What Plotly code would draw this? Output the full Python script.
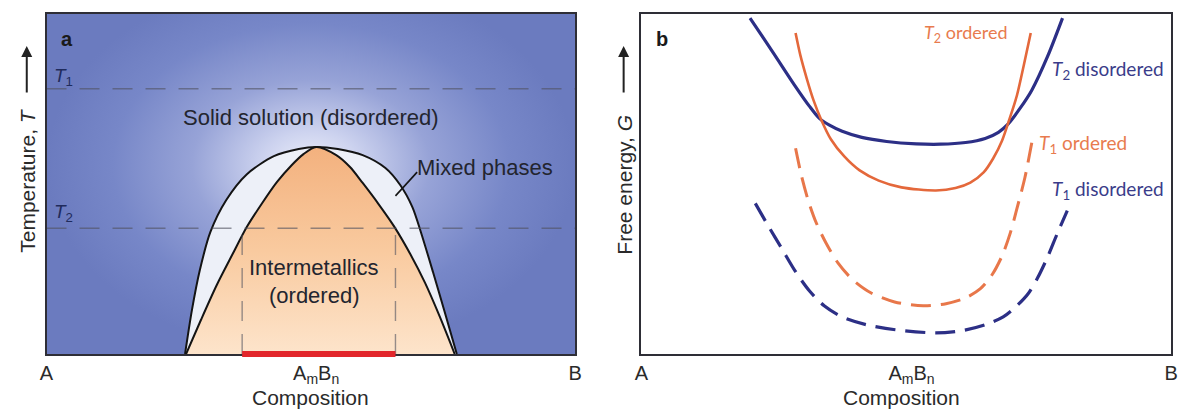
import plotly.graph_objects as go

W, H = 1187, 412

# ---------------- Panel a: phase diagram ----------------
# outer two-phase (mixed) boundary, composition vs temperature
solvus_x = [0.262, 0.275, 0.290, 0.310, 0.340, 0.379, 0.430, 0.477, 0.510, 0.551,
            0.598, 0.641, 0.669, 0.692, 0.708, 0.731, 0.753, 0.776]
solvus_t = [0.000, 0.129, 0.247, 0.359, 0.453, 0.529, 0.582, 0.603, 0.609, 0.603,
            0.585, 0.547, 0.497, 0.432, 0.359, 0.241, 0.124, 0.000]

# ordered intermetallic boundary
order_x = [0.264, 0.292, 0.322, 0.351, 0.379, 0.408, 0.436, 0.464, 0.486, 0.510,
           0.548, 0.574, 0.598, 0.628, 0.658, 0.688, 0.716, 0.744, 0.772]
order_t = [0.000, 0.100, 0.203, 0.291, 0.374, 0.444, 0.506, 0.556, 0.588, 0.609,
           0.585, 0.550, 0.503, 0.441, 0.374, 0.294, 0.209, 0.109, 0.000]

T1 = 0.78
T2 = 0.37
compound_range = [0.37, 0.66]

comp_range = [0.0, 1.0]
temp_range = [0.0, 1.0]
comp_ticks = [0.0, 0.51, 1.0]
comp_labels = ["A", "A<sub>m</sub>B<sub>n</sub>", "B"]

# ---------------- Panel b: free-energy curves ----------------
t2_dis_x = [0.205, 0.248, 0.289, 0.317, 0.336, 0.355, 0.379, 0.416, 0.463, 0.519,
            0.565, 0.612, 0.649, 0.674, 0.692, 0.715, 0.737, 0.767, 0.795]
t2_dis_g = [0.988, 0.888, 0.791, 0.729, 0.693, 0.673, 0.655, 0.637, 0.625, 0.618,
            0.617, 0.622, 0.634, 0.652, 0.676, 0.723, 0.776, 0.876, 0.988]

t2_ord_x = [0.291, 0.300, 0.312, 0.325, 0.340, 0.358, 0.383, 0.412, 0.448, 0.491,
            0.556, 0.593, 0.621, 0.646, 0.664, 0.681, 0.694, 0.709, 0.722, 0.735]
t2_ord_g = [0.944, 0.879, 0.811, 0.746, 0.687, 0.631, 0.581, 0.540, 0.510, 0.490,
            0.481, 0.488, 0.504, 0.534, 0.575, 0.628, 0.687, 0.761, 0.850, 0.944]

t1_ord_x = [0.291, 0.302, 0.315, 0.330, 0.349, 0.371, 0.399, 0.433, 0.478, 0.532,
            0.575, 0.612, 0.640, 0.662, 0.681, 0.696, 0.709, 0.724, 0.737]
t1_ord_g = [0.605, 0.525, 0.451, 0.386, 0.325, 0.268, 0.218, 0.180, 0.153, 0.142,
            0.148, 0.165, 0.192, 0.233, 0.289, 0.354, 0.428, 0.519, 0.622]

t1_dis_x = [0.215, 0.239, 0.265, 0.291, 0.317, 0.345, 0.379, 0.425, 0.481, 0.556,
            0.603, 0.649, 0.683, 0.709, 0.730, 0.748, 0.767, 0.785, 0.804]
t1_dis_g = [0.443, 0.378, 0.310, 0.242, 0.186, 0.142, 0.109, 0.086, 0.071, 0.062,
            0.068, 0.086, 0.109, 0.142, 0.177, 0.224, 0.286, 0.354, 0.422]

g_range = [0.0, 1.0]

NAVY = "#2c2f86"
ORANGE = "#e4683b"
TEXT_A = "#23252f"
SANS = "Liberation Sans, Arial, sans-serif"
LABEL_FONT = "Lato, Open Sans, sans-serif"
SMOOTH = 0.8

fig = go.Figure()

# panel a background with a soft central glow (extends above the frame so the glow sits high)
glow_top = temp_range[1] * 1.11
fig.add_trace(go.Scatter(
    x=[comp_range[0], comp_range[1], comp_range[1], comp_range[0], comp_range[0]],
    y=[temp_range[0], temp_range[0], glow_top, glow_top, temp_range[0]],
    mode="lines", line=dict(width=0), fill="toself",
    fillgradient=dict(type="radial", colorscale=[
        [0.0, "#eceffa"], [0.18, "#cdd3ef"], [0.45, "#97a3d7"],
        [0.75, "#7787c8"], [1.0, "#6b7bbf"]]),
    hoverinfo="skip", showlegend=False, xaxis="x", yaxis="y"))

# mixed-phase region
fig.add_trace(go.Scatter(
    x=solvus_x, y=solvus_t, mode="lines",
    line=dict(color="#141414", width=2, shape="spline", smoothing=SMOOTH),
    fill="toself", fillcolor="#edf0f8", hoverinfo="skip", showlegend=False, xaxis="x", yaxis="y"))

# ordered intermetallic region
fig.add_trace(go.Scatter(
    x=order_x, y=order_t, mode="lines",
    line=dict(color="#141414", width=2, shape="spline", smoothing=SMOOTH),
    fill="toself",
    fillgradient=dict(type="vertical", start=min(order_t), stop=max(order_t), colorscale=[
        [0.0, "#fde4cb"], [0.5, "#f9ca9f"], [1.0, "#f3b17e"]]),
    hoverinfo="skip", showlegend=False, xaxis="x", yaxis="y"))

dash_style = dict(color="rgba(80,82,95,0.6)", width=1.4, dash="20px,13px")
for t in (T1, T2):
    fig.add_trace(go.Scatter(x=comp_range, y=[t, t], mode="lines", line=dash_style,
                             hoverinfo="skip", showlegend=False, xaxis="x", yaxis="y"))
for c in compound_range:
    fig.add_trace(go.Scatter(x=[c, c], y=[temp_range[0], T2], mode="lines", line=dash_style,
                             hoverinfo="skip", showlegend=False, xaxis="x", yaxis="y"))

# leader line for the mixed-phase label
fig.add_trace(go.Scatter(x=[0.660, 0.701], y=[0.465, 0.535], mode="lines",
                         line=dict(color="#141414", width=1.6),
                         hoverinfo="skip", showlegend=False, xaxis="x", yaxis="y"))

# ---------------- panel b traces ----------------
curves = [
    (t2_dis_x, t2_dis_g, NAVY, "solid", 3.2),
    (t2_ord_x, t2_ord_g, ORANGE, "solid", 2.6),
    (t1_ord_x, t1_ord_g, "#e8774a", "20px,10px", 3.0),
    (t1_dis_x, t1_dis_g, NAVY, "20px,10px", 3.2),
]
for xs, gs, col, dash, w in curves:
    fig.add_trace(go.Scatter(x=xs, y=gs, mode="lines",
                             line=dict(color=col, width=w, dash=dash, shape="spline", smoothing=SMOOTH),
                             hoverinfo="skip", showlegend=False, xaxis="x2", yaxis="y2"))

# stoichiometric composition bar on the axis
fig.add_shape(type="line", xref="x", yref="y domain", x0=compound_range[0], x1=compound_range[1],
              y0=0, y1=0, line=dict(color="#e2262b", width=6), layer="above")

ydom = [(H - 354) / H, (H - 14) / H]
axis_common = dict(showgrid=False, zeroline=False, showline=True, mirror=True,
                   linecolor="#2e2e36", linewidth=2, ticks="", fixedrange=True)
tick_font = dict(family=SANS, size=20, color="#2a2a2a")
fig.update_layout(
    width=W, height=H,
    margin=dict(l=0, r=0, t=0, b=0),
    paper_bgcolor="white", plot_bgcolor="white",
    xaxis=dict(domain=[40 / W, 575 / W], range=comp_range, tickvals=comp_ticks, ticktext=comp_labels,
               tickfont=tick_font, ticklabelstandoff=0, anchor="y", **axis_common),
    yaxis=dict(domain=ydom, range=temp_range, showticklabels=False, anchor="x", **axis_common),
    xaxis2=dict(domain=[642 / W, 1178 / W], range=comp_range, tickvals=comp_ticks, ticktext=comp_labels,
                tickfont=tick_font, ticklabelstandoff=0, anchor="y2", **axis_common),
    yaxis2=dict(domain=ydom, range=g_range, showticklabels=False, anchor="x2", **axis_common),
)

ann = []


def txt(text, x, y, ref="", size=17, color=TEXT_A, family=SANS, xanchor="center", angle=0):
    d = dict(text=text, x=x, y=y, showarrow=False, xanchor=xanchor, yanchor="middle",
             font=dict(family=family, size=size, color=color), textangle=angle)
    if ref == "a":
        d.update(xref="x", yref="y")
    elif ref == "b":
        d.update(xref="x2", yref="y2")
    else:
        d.update(xref="paper", yref="paper")
    ann.append(d)


# panel a labels
txt("<b>a</b>", 0.039, 0.926, ref="a", size=20, color="#1a1a1a")
txt("<i>T</i><sub>1</sub>", 0.032, 0.815, ref="a", size=19, color="#1f2b5c")
txt("<i>T</i><sub>2</sub>", 0.032, 0.415, ref="a", size=19, color="#1f2b5c")
txt("Solid solution (disordered)", 0.501, 0.697, ref="a", size=22)
txt("Mixed phases", 0.697, 0.55, ref="a", size=22, xanchor="left")
txt("Intermetallics", 0.505, 0.253, ref="a", size=22)
txt("(ordered)", 0.505, 0.171, ref="a", size=22)

# panel b labels
txt("<b>b</b>", 0.039, 0.926, ref="b", size=20, color="#1a1a1a")
txt("<i>T</i><sub>2</sub> ordered", 0.612, 0.944, ref="b", size=18, color="#e87b4e", family=LABEL_FONT)
txt("<i>T</i><sub>2</sub> disordered", 0.7705, 0.835, ref="b", size=19, color="#3a3c8a",
    family=LABEL_FONT, xanchor="left")
txt("<i>T</i><sub>1</sub> ordered", 0.746, 0.619, ref="b", size=19, color="#e87b4e",
    family=LABEL_FONT, xanchor="left")
txt("<i>T</i><sub>1</sub> disordered", 0.7705, 0.481, ref="b", size=19, color="#3a3c8a",
    family=LABEL_FONT, xanchor="left")

# axis titles
txt("Composition", 307 / W, (H - 397) / H, size=21, color="#2a2a2a")
txt("Composition", 905 / W, (H - 397) / H, size=21, color="#2a2a2a")
txt("Temperature, <i>T</i>", 20 / W, (H - 180) / H, size=21, color="#2a2a2a", angle=-90)
txt("Free energy, <i>G</i>", 624 / W, (H - 185) / H, size=21, color="#2a2a2a", angle=-90)

# upward arrows beside the y titles
for px in (20, 624):
    ann.append(dict(text="", x=px / W, y=(H - 46) / H, xref="paper", yref="paper",
                    ax=0, ay=48, axref="pixel", ayref="pixel", showarrow=True,
                    arrowhead=2, arrowsize=1.1, arrowwidth=2, arrowcolor="#222"))

fig.update_layout(annotations=ann)
fig.write_html("out.html")
